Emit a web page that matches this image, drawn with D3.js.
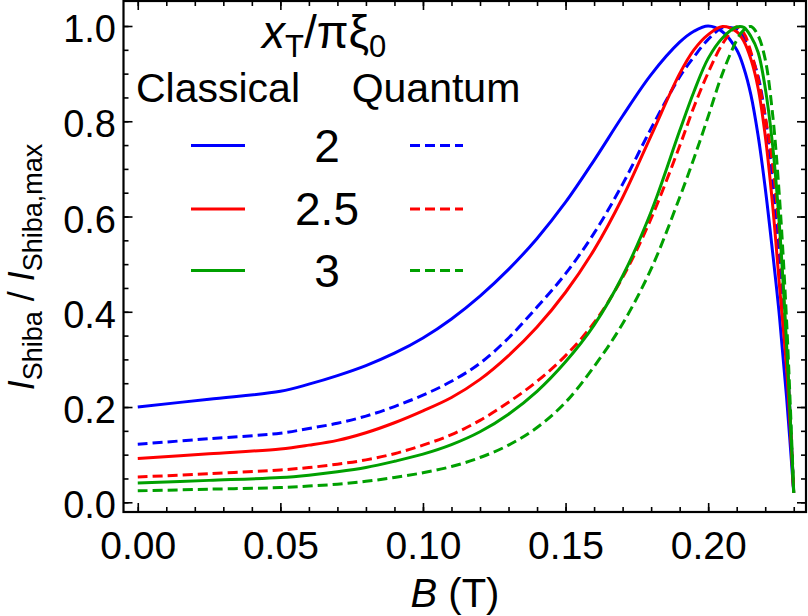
<!DOCTYPE html>
<html>
<head>
<meta charset="utf-8">
<script src="https://cdn.jsdelivr.net/npm/d3@7"></script>
<style>
  body { margin: 0; background: #fff; }
  svg { display: block; }
  text { font-family: "Liberation Sans", Arial, sans-serif; fill: #000; }
</style>
</head>
<body>
<div id="chart"></div>
<script>
// magnetic field grid (T)
var bField = [0, 0.025, 0.05, 0.06, 0.07, 0.08, 0.09, 0.10, 0.11, 0.12, 0.13, 0.14, 0.15, 0.16, 0.17, 0.18, 0.19,
              0.195, 0.20, 0.205, 0.21, 0.2125, 0.215, 0.2175, 0.22, 0.2225, 0.225, 0.2275, 0.23];

// normalised Shiba intensity
var classical2  = [0.200, 0.2165, 0.233, 0.248, 0.266, 0.287, 0.313, 0.345, 0.385, 0.433, 0.489, 0.554, 0.630, 0.718, 0.811, 0.898, 0.966,
                   0.989, 1.000, 0.988, 0.950, 0.912, 0.855, 0.770, 0.660, 0.530, 0.390, 0.220, 0.020];
var quantum2    = [0.122, 0.1335, 0.145, 0.155, 0.166, 0.181, 0.201, 0.225, 0.254, 0.292, 0.345, 0.410, 0.480, 0.565, 0.668, 0.785, 0.893,
                   0.935, 0.972, 0.996, 0.993, 0.975, 0.940, 0.895, 0.810, 0.680, 0.510, 0.320, 0.020];
var classical25 = [0.092, 0.102, 0.112, 0.120, 0.130, 0.146, 0.167, 0.192, 0.220, 0.258, 0.308, 0.368, 0.441, 0.530, 0.640, 0.770, 0.900,
                   0.950, 0.982, 0.999, 0.988, 0.968, 0.930, 0.870, 0.770, 0.630, 0.455, 0.280, 0.020];
var quantum25   = [0.053, 0.060, 0.068, 0.073, 0.080, 0.089, 0.102, 0.120, 0.142, 0.172, 0.210, 0.254, 0.308, 0.377, 0.472, 0.596, 0.748,
                   0.830, 0.902, 0.962, 0.998, 0.985, 0.945, 0.890, 0.810, 0.715, 0.560, 0.320, 0.020];
var classical3  = [0.0405, 0.046, 0.052, 0.057, 0.064, 0.073, 0.086, 0.101, 0.121, 0.148, 0.185, 0.233, 0.295, 0.372, 0.475, 0.610, 0.780,
                   0.862, 0.932, 0.975, 0.998, 0.997, 0.978, 0.945, 0.870, 0.755, 0.580, 0.330, 0.020];
var quantum3    = [0.024, 0.0275, 0.031, 0.034, 0.038, 0.044, 0.052, 0.062, 0.075, 0.094, 0.120, 0.157, 0.210, 0.285, 0.375, 0.490, 0.640,
                   0.722, 0.810, 0.900, 0.970, 0.992, 0.999, 0.980, 0.930, 0.820, 0.640, 0.380, 0.020];

var legendLabels = ["2", "2.5", "3"];
var colors = ["#0000ff", "#ff0000", "#00a000"];
var xTicks = [0, 0.05, 0.10, 0.15, 0.20];
var yTicks = [0, 0.2, 0.4, 0.6, 0.8, 1.0];

var width = 808, height = 616;
var plot = {left: 123.5, right: 806, top: 1, bottom: 512};

var svg = d3.select('#chart').append('svg').attr('width', width).attr('height', height);

var x = d3.scaleLinear().domain([-0.005, 0.2343]).range([plot.left, plot.right]);
var y = d3.scaleLinear().domain([-0.0204, 1.0525]).range([plot.bottom, plot.top]);

var series = [
    {values: classical2,  color: colors[0], dashed: false},
    {values: quantum2,    color: colors[0], dashed: true},
    {values: classical25, color: colors[1], dashed: false},
    {values: quantum25,   color: colors[1], dashed: true},
    {values: classical3,  color: colors[2], dashed: false},
    {values: quantum3,    color: colors[2], dashed: true}
];

var dash = "10,5";

// curves
svg.append('clipPath').attr('id', 'clip').append('rect')
    .attr('x', plot.left).attr('y', plot.top)
    .attr('width', plot.right - plot.left).attr('height', plot.bottom - plot.top);

var line = d3.line()
    .x(function(d) { return x(d[0]); })
    .y(function(d) { return y(d[1]); })
    .curve(d3.curveCatmullRom.alpha(0.5));

svg.append('g').attr('clip-path', 'url(#clip)')
    .selectAll('path').data(series).enter().append('path')
    .attr('d', function(s) { return line(bField.map(function(b, i) { return [b, s.values[i]]; })); })
    .style('fill', 'none')
    .style('stroke', function(s) { return s.color; })
    .style('stroke-width', 3)
    .style('stroke-dasharray', function(s) { return s.dashed ? dash : null; });

// axes: inward ticks on all four sides
var xMinor = d3.range(0, 24).map(function(i) { return i / 100; });
var yMinor = d3.range(0, 21).map(function(i) { return i / 20; });

function styleAxis(g) {
    g.select('.domain').remove();
    g.selectAll('line').style('stroke', '#000').style('stroke-width', 1.6);
}

svg.append('g').attr('transform', 'translate(0,' + plot.bottom + ')')
    .call(d3.axisBottom(x).tickValues(xMinor).tickSize(-5).tickFormat(''))
    .call(styleAxis);
svg.append('g').attr('transform', 'translate(0,' + plot.bottom + ')')
    .call(d3.axisBottom(x).tickValues(xTicks).tickSize(-9).tickPadding(19).tickFormat(d3.format('.2f')))
    .call(styleAxis)
    .selectAll('text').style('font-size', '39px').attr('fill', '#000');

svg.append('g').attr('transform', 'translate(0,' + plot.top + ')')
    .call(d3.axisTop(x).tickValues(xMinor).tickSize(-5).tickFormat(''))
    .call(styleAxis);
svg.append('g').attr('transform', 'translate(0,' + plot.top + ')')
    .call(d3.axisTop(x).tickValues(xTicks).tickSize(-9).tickFormat(''))
    .call(styleAxis);

svg.append('g').attr('transform', 'translate(' + plot.left + ',0)')
    .call(d3.axisLeft(y).tickValues(yMinor).tickSize(-5).tickFormat(''))
    .call(styleAxis);
svg.append('g').attr('transform', 'translate(' + plot.left + ',0)')
    .call(d3.axisLeft(y).tickValues(yTicks).tickSize(-9).tickPadding(7.5).tickFormat(d3.format('.1f')))
    .call(styleAxis)
    .selectAll('text').style('font-size', '38px').attr('fill', '#000').attr('dy', '0.41em');

svg.append('g').attr('transform', 'translate(' + plot.right + ',0)')
    .call(d3.axisRight(y).tickValues(yMinor).tickSize(-5).tickFormat(''))
    .call(styleAxis);
svg.append('g').attr('transform', 'translate(' + plot.right + ',0)')
    .call(d3.axisRight(y).tickValues(yTicks).tickSize(-9).tickFormat(''))
    .call(styleAxis);

svg.append('rect')
    .attr('x', plot.left).attr('y', plot.top)
    .attr('width', plot.right - plot.left).attr('height', plot.bottom - plot.top)
    .style('fill', 'none').style('stroke', '#000').style('stroke-width', 2.2);

// axis titles
var xTitle = svg.append('text').attr('x', 455).attr('y', 607)
    .attr('text-anchor', 'middle').style('font-size', '40px');
xTitle.append('tspan').style('font-style', 'italic').text('B');
xTitle.append('tspan').text(' (T)');

var yTitle = svg.append('text').attr('transform', 'translate(34,267) rotate(-90)')
    .attr('text-anchor', 'middle').style('font-size', '36px');
yTitle.append('tspan').style('font-style', 'italic').text('I');
yTitle.append('tspan').attr('dy', 8).style('font-size', '27px').text('Shiba');
yTitle.append('tspan').attr('dy', -8).text(' / ');
yTitle.append('tspan').style('font-style', 'italic').text('I');
yTitle.append('tspan').attr('dy', 8).style('font-size', '27px').text('Shiba,max');

// legend
var colClassical = 218, colLabel = 327, colQuantum = 436;
var rowY = [145.5, 209, 270.5];

var lTitle = svg.append('text').attr('x', 262).attr('y', 48)
    .attr('text-anchor', 'start').style('font-size', '46px');
lTitle.append('tspan').style('font-style', 'italic').text('x');
lTitle.append('tspan').attr('dy', 9).style('font-size', '31px').text('T');
lTitle.append('tspan').attr('dy', -9).text('/πξ');
lTitle.append('tspan').attr('dy', 9).style('font-size', '31px').text('0');

svg.append('text').attr('x', colClassical).attr('y', 102)
    .attr('text-anchor', 'middle').style('font-size', '41px').text('Classical');
svg.append('text').attr('x', colQuantum).attr('y', 102)
    .attr('text-anchor', 'middle').style('font-size', '41px').text('Quantum');

var rows = svg.append('g').selectAll('g').data(legendLabels).enter().append('g');
rows.append('line')
    .attr('x1', colClassical - 27).attr('x2', colClassical + 27)
    .attr('y1', function(d, i) { return rowY[i]; }).attr('y2', function(d, i) { return rowY[i]; })
    .style('stroke', function(d, i) { return colors[i]; }).style('stroke-width', 3);
rows.append('line')
    .attr('x1', colQuantum - 26).attr('x2', colQuantum + 27)
    .attr('y1', function(d, i) { return rowY[i]; }).attr('y2', function(d, i) { return rowY[i]; })
    .style('stroke', function(d, i) { return colors[i]; }).style('stroke-width', 3)
    .style('stroke-dasharray', dash);
rows.append('text')
    .attr('x', colLabel).attr('y', function(d, i) { return rowY[i] + 16; })
    .attr('text-anchor', 'middle').style('font-size', '46px')
    .text(function(d) { return d; });
</script>
</body>
</html>
